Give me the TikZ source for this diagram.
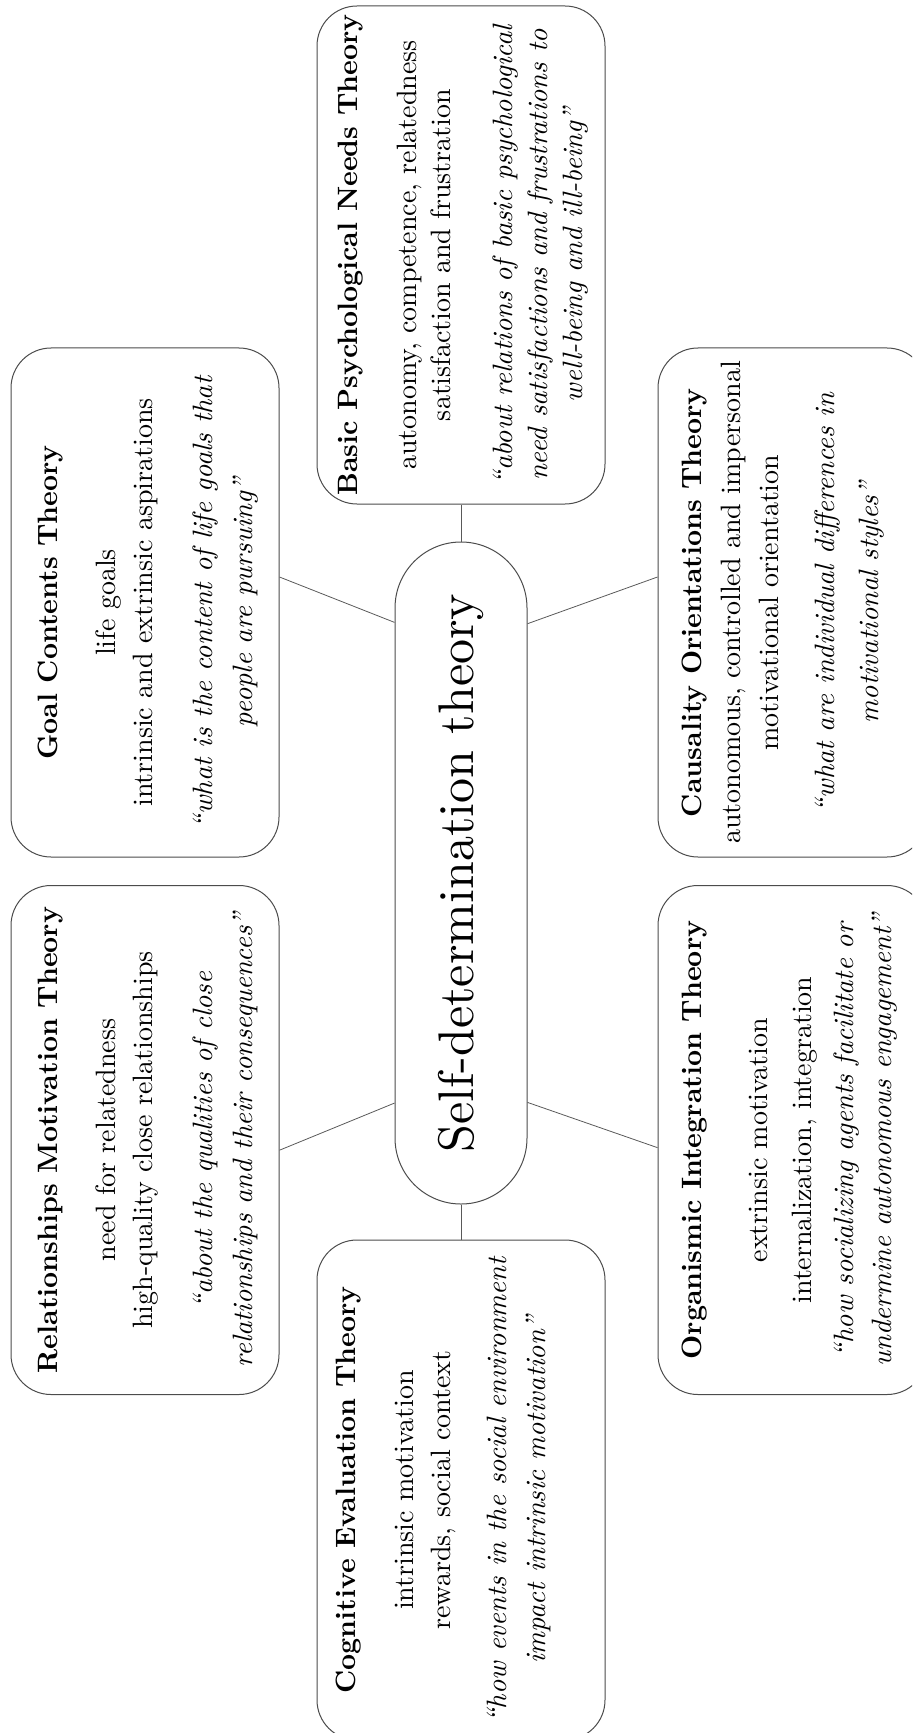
\documentclass[tikz,border=0pt]{standalone}
\usepackage{fontspec}
\setmainfont{lmroman10-regular.otf}[BoldFont=lmroman10-bold.otf, ItalicFont=lmroman10-italic.otf, BoldItalicFont=lmroman10-bolditalic.otf, Ligatures=TeX]
\usetikzlibrary{calc}
\newcommand{\bodyfont}{\fontsize{14}{18}\selectfont}
\newcommand{\boxtext}[3]{\parbox[c][#2][t]{#1}{\centering\bodyfont #3}}
\tikzset{
  theorybox/.style={draw=black!70, line width=0.5pt, rounded corners=20pt, inner sep=0pt, rotate=90, fill=white},
  corebox/.style={draw=black!70, line width=0.5pt, rounded corners=33pt, minimum width=331pt, minimum height=66pt, inner sep=0pt, rotate=90, fill=white, font=\fontsize{25}{30}\selectfont},
  link/.style={draw=black!65, line width=0.4pt}
}
\begin{document}
\begin{tikzpicture}[x=0.5pt,y=-0.5pt]
\useasboundingbox (0,0) rectangle (912,1733);
\clip (0,0) rectangle (912,1733);

\node[corebox] (c) at (461,873) {Self-determination theory};

\node[theorybox] (gct) at (145,602.5) {\boxtext{254.5pt}{134pt}{%
\rule{0pt}{23pt}\textbf{Goal Contents Theory}\\[11pt]
life goals\\[0.5pt]
intrinsic and extrinsic aspirations\\[12pt]
\itshape “what is the content of life goals that\\[2pt]
people are pursuing”}};

\node[theorybox] (rmt) at (145,1140) {\boxtext{254.5pt}{134pt}{%
\rule{0pt}{23pt}\textbf{Relationships Motivation Theory}\\[11pt]
need for relatedness\\[0.5pt]
high-quality close relationships\\[12pt]
\itshape “about the qualities of close\\[2pt]
relationships and their consequences”}};

\node[theorybox] (bpnt) at (461,255) {\boxtext{249pt}{144pt}{%
\rule{0pt}{20pt}\textbf{Basic Psychological Needs Theory}\\[11.5pt]
autonomy, competence, relatedness\\[-1pt]
satisfaction and frustration\\[13pt]
\itshape “about relations of basic psychological\\[-0.5pt]
need satisfactions and frustrations to\\[-0.5pt]
well-being and ill-being”}};

\node[theorybox] (cet) at (461,1490) {\boxtext{250pt}{144pt}{%
\rule{0pt}{19pt}\textbf{Cognitive Evaluation Theory}\\[11pt]
intrinsic motivation\\[0.5pt]
rewards, social context\\[10pt]
\itshape “how events in the social environment\\[1.5pt]
impact intrinsic motivation”}};

\node[theorybox] (cot) at (792.5,602.5) {\boxtext{254.5pt}{134.5pt}{%
\rule{0pt}{21.5pt}\textbf{Causality Orientations Theory}\\[1.5pt]
autonomous, controlled and impersonal\\[1pt]
motivational orientation\\[10pt]
\itshape “what are individual differences in\\[4pt]
motivational styles”}};

\node[theorybox] (oit) at (792.5,1140) {\boxtext{254.5pt}{134.5pt}{%
\rule{0pt}{21.5pt}\textbf{Organismic Integration Theory}\\[15pt]
extrinsic motivation\\[4pt]
internalization, integration\\[3pt]
\itshape “how socializing agents facilitate or\\[1pt]
undermine autonomous engagement”}};

\draw[link] (c.east) -- (bpnt.west);
\draw[link] (c.west) -- (cet.east);
\draw[link] ($(c.north east)!0.122!(c.north west)$) -- ($(gct.south east)!0.45!(gct.south west)$);
\draw[link] ($(c.north east)!0.847!(c.north west)$) -- ($(rmt.south east)!0.52!(rmt.south west)$);
\draw[link] ($(c.south east)!0.124!(c.south west)$) -- ($(cot.north east)!0.45!(cot.north west)$);
\draw[link] ($(c.south east)!0.846!(c.south west)$) -- ($(oit.north east)!0.515!(oit.north west)$);
\end{tikzpicture}
\end{document}
